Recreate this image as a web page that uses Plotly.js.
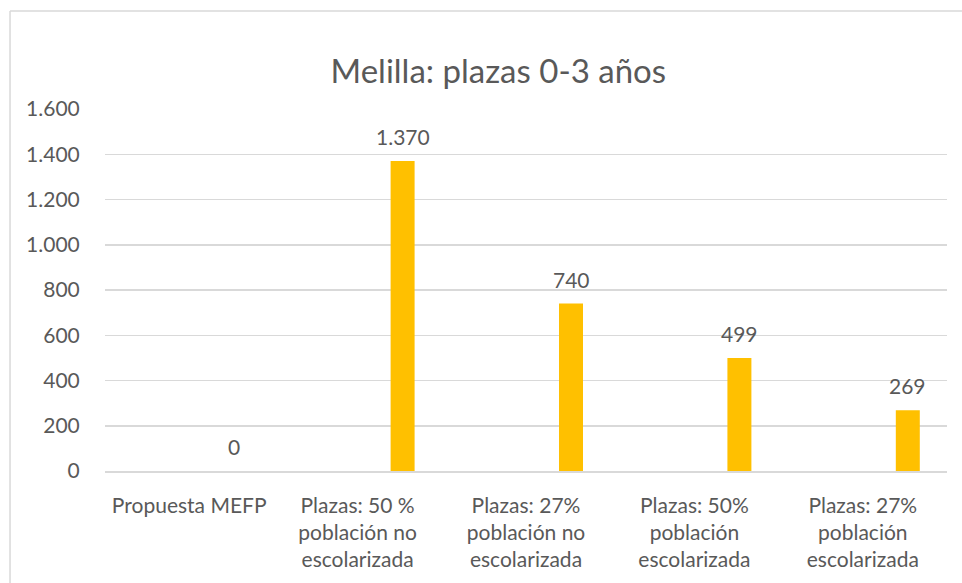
<!DOCTYPE html>
<html>
<head>
<meta charset="utf-8">
<script src="https://cdn.plot.ly/plotly-3.0.1.min.js"></script>
<style>html,body{margin:0;padding:0;background:#fff;}#chart{width:962px;height:583px;}</style>
</head>
<body>
<div id="chart"></div>
<script>
var categories = [
  "Propuesta MEFP",
  "Plazas: 50 %<br>población no<br>escolarizada",
  "Plazas: 27%<br>población no<br>escolarizada",
  "Plazas: 50%<br>población<br>escolarizada",
  "Plazas: 27%<br>población<br>escolarizada"
];
var plazas = [0, 1370, 740, 499, 269];
var yTicks = [0, 200, 400, 600, 800, 1000, 1200, 1400, 1600];
var chartTitle = "Melilla: plazas 0-3 años";

var FONT = "Lato, 'Open Sans', 'Liberation Sans', sans-serif";
var TXT = "#595959";

function fmt(v) {
  return v.toString().replace(/\B(?=(\d{3})+(?!\d))/g, ".");
}

var trace = {
  type: "bar",
  x: categories,
  y: plazas,
  width: 0.1425,
  offset: 0.196,
  marker: {color: "#FFC000", line: {width: 0}},
  cliponaxis: false,
  hoverinfo: "x+y"
};

var labels = categories.map(function (c, i) {
  return {
    x: c, y: plazas[i], xref: "x", yref: "y",
    text: fmt(plazas[i]),
    showarrow: false,
    xanchor: "center", yanchor: "bottom",
    xshift: 45, yshift: 10,
    font: {family: FONT, size: 21, color: TXT}
  };
});

var layout = {
  width: 962, height: 583,
  margin: {l: 105, r: 15, t: 109, b: 112},
  paper_bgcolor: "#ffffff",
  plot_bgcolor: "#ffffff",
  separators: ",.",
  showlegend: false,
  font: {family: FONT, color: TXT},
  title: {
    text: chartTitle,
    font: {family: FONT, size: 33, color: TXT},
    xref: "container", x: 0.518, xanchor: "center",
    yref: "container", y: 0.878, yanchor: "middle"
  },
  xaxis: {
    type: "category",
    showgrid: false,
    showline: true, linecolor: "#d9d9d9", linewidth: 1.5,
    zeroline: false,
    ticks: "outside", ticklen: 15, tickcolor: "rgba(0,0,0,0)",
    tickfont: {family: FONT, size: 21, color: TXT},
    fixedrange: true
  },
  yaxis: {
    range: [0, 1600],
    tickvals: yTicks,
    tickformat: ",d",
    showgrid: true, gridcolor: "#d9d9d9", gridwidth: 1.5,
    zeroline: false, showline: false,
    ticks: "outside", ticklen: 20, tickcolor: "rgba(0,0,0,0)",
    tickfont: {family: FONT, size: 21, color: TXT},
    fixedrange: true
  },
  annotations: labels,
  shapes: [
    {type: "line", xref: "paper", yref: "paper", x0: -0.1128, x1: -0.1128, y0: 1.2707, y1: -0.4, line: {color: "#d9d9d9", width: 1.5}},
    {type: "line", xref: "paper", yref: "paper", x0: -0.1128, x1: 1.2, y0: 1.2707, y1: 1.2707, line: {color: "#d9d9d9", width: 1.5}}
  ]
};

Plotly.newPlot("chart", [trace], layout, {displayModeBar: false, staticPlot: true});
</script>
</body>
</html>
